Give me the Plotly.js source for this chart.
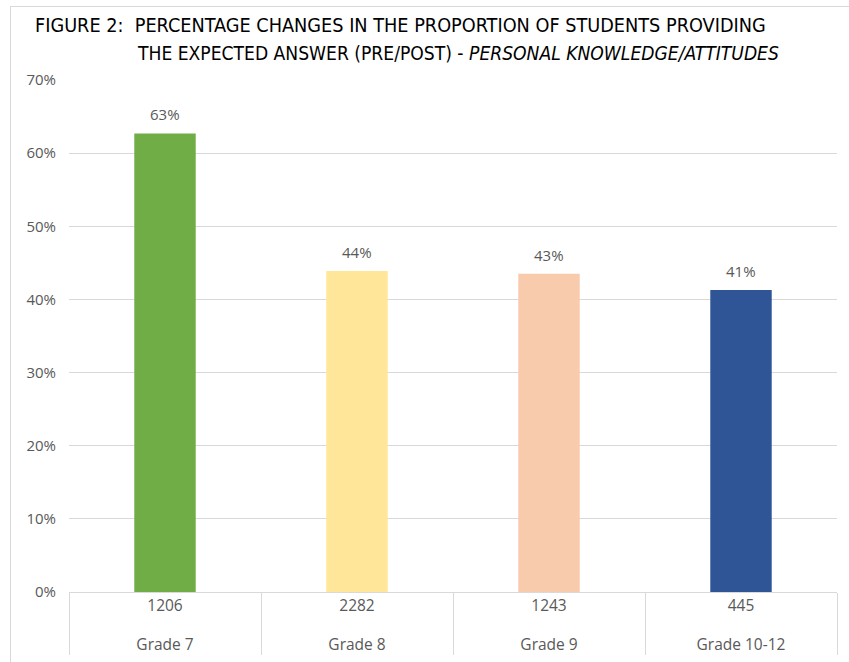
<!DOCTYPE html>
<html>
<head>
<meta charset="utf-8">
<script src="https://cdn.plot.ly/plotly-3.0.1.min.js"></script>
<style>
  html, body { margin: 0; padding: 0; background: #fff; }
  #chart { position: absolute; left: 0; top: 0; width: 849px; height: 662px; }
  #frame { position: absolute; left: 10px; top: 6px; width: 900px; height: 700px;
           border: 1px solid #d9d9d9; pointer-events: none; }
</style>
</head>
<body>
<div id="chart"></div>
<div id="frame"></div>
<script>
const grades = ["Grade 7", "Grade 8", "Grade 9", "Grade 10-12"];
const counts = ["1206", "2282", "1243", "445"];
const values = [62.7, 43.9, 43.5, 41.3];
const labels = ["63%", "44%", "43%", "41%"];
const colors = ["#70AD47", "#FFE699", "#F8CBAD", "#2F5597"];

const FONT = "'Open Sans', 'Noto Sans', sans-serif";
const TFONT = "'DejaVu Sans Condensed', 'Liberation Sans Narrow', sans-serif";
const GREY = "#595959";

// category labels drawn a bit larger; inner labels get a blank second line to space the rows
const big = s => "<span style='font-size:15.5px'>" + s + "</span>";
const innerLabels = counts.map(c => big(c) + "<br>\u00a0");
const outerLabels = grades.map(g => big(g));

const trace = {
  type: "bar",
  x: [outerLabels, innerLabels],
  y: values,
  marker: { color: colors },
  width: 0.32,
  hoverinfo: "none"
};

const annotations = values.map((v, i) => ({
  x: i, y: v, xref: "x", yref: "y",
  text: labels[i], showarrow: false, yshift: 19,
  font: { family: FONT, size: 15, color: GREY }
}));

annotations.push({
  xref: "paper", yref: "paper",
  x: (135 - 69) / 768, y: 1 + (80 - 53) / 512,
  xanchor: "left", yanchor: "middle",
  text: "THE EXPECTED ANSWER (PRE/POST) - <i>PERSONAL KNOWLEDGE/ATTITUDES</i>",
  showarrow: false,
  font: { family: TFONT, size: 19.1, color: "#000" }
});

const layout = {
  width: 849, height: 662,
  margin: { l: 69, r: 12, t: 80, b: 70 },
  paper_bgcolor: "#fff",
  plot_bgcolor: "#fff",
  showlegend: false,
  title: {
    text: "FIGURE 2:  PERCENTAGE CHANGES IN THE PROPORTION OF STUDENTS PROVIDING",
    x: 35 / 849, xanchor: "left", xref: "container",
    y: 1 - 25 / 662, yanchor: "middle", yref: "container",
    font: { family: TFONT, size: 19.7, color: "#000" }
  },
  xaxis: {
    type: "multicategory",
    showline: true, linecolor: "#d9d9d9", linewidth: 1,
    showgrid: false,
    showdividers: true, dividercolor: "#d9d9d9", dividerwidth: 1,
    tickfont: { family: FONT, size: 13.5, color: GREY },
    ticks: "",
    ticklabelstandoff: 2,
    fixedrange: true
  },
  yaxis: {
    range: [0, 70],
    tickvals: [0, 10, 20, 30, 40, 50, 60, 70],
    ticktext: ["0%", "10%", "20%", "30%", "40%", "50%", "60%", "70%"],
    showgrid: true, gridcolor: "#d9d9d9", gridwidth: 1,
    zeroline: false, showline: false,
    ticklabelstandoff: 12,
    tickfont: { family: FONT, size: 15, color: GREY },
    fixedrange: true
  },
  annotations: annotations
};

Plotly.newPlot("chart", [trace], layout, { displayModeBar: false, staticPlot: true });
</script>
</body>
</html>
